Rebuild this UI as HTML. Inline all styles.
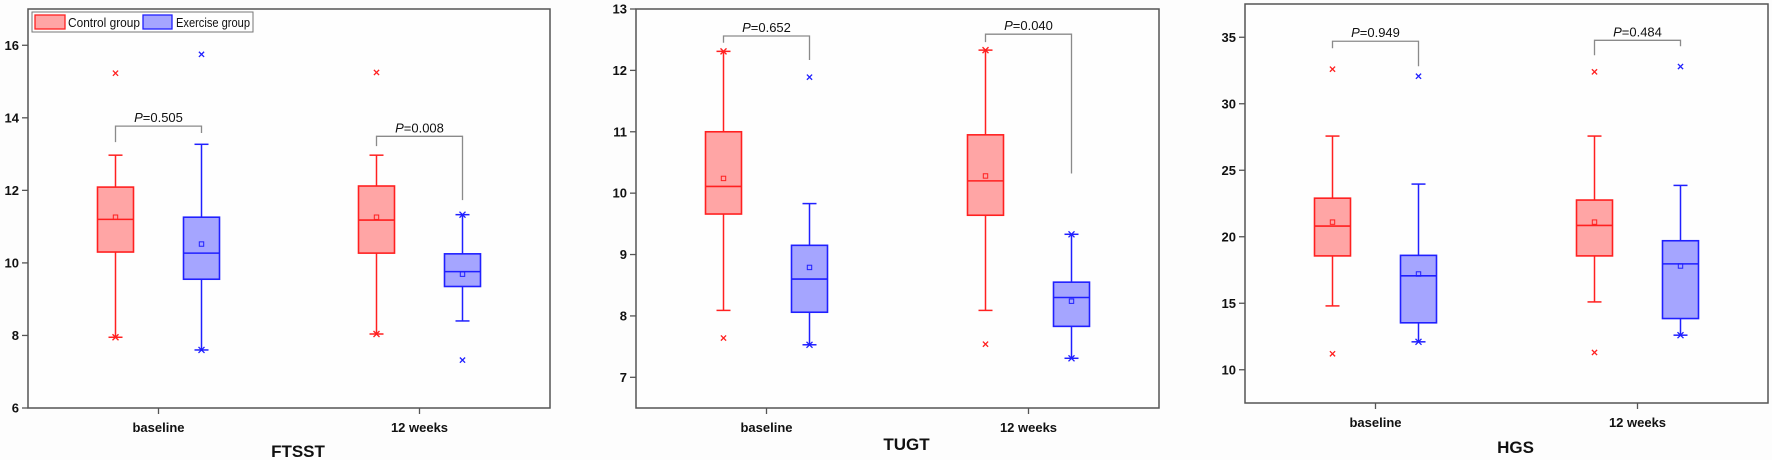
<!DOCTYPE html>
<html><head><meta charset="utf-8"><style>
html,body{margin:0;padding:0;background:#fdfdfd;}
svg{display:block;font-family:"Liberation Sans",Arial,sans-serif;}
</style></head><body>
<svg id="chart" width="1772" height="460" viewBox="0 0 1772 460" xmlns="http://www.w3.org/2000/svg">
<rect x="0" y="0" width="1772" height="460" fill="#fdfdfd"/>
</svg>
<script>
// ---- data ----
const categories = ["baseline", "12 weeks"];
const groups = ["Control group", "Exercise group"];
const panelTitles = ["FTSST", "TUGT", "HGS"];
// stats per time: [min, q1, median, q3, max, mean]
const ftsstControl = [[7.95, 10.3, 11.2, 12.09, 12.97, 11.26], [8.04, 10.27, 11.18, 12.12, 12.97, 11.26]];
const ftsstExercise = [[7.6, 9.55, 10.27, 11.26, 13.27, 10.52], [8.4, 9.35, 9.76, 10.25, 11.33, 9.69]];
const tugtControl = [[8.09, 9.66, 10.11, 11.0, 12.31, 10.24], [8.09, 9.64, 10.2, 10.95, 12.33, 10.28]];
const tugtExercise = [[7.53, 8.06, 8.6, 9.15, 9.83, 8.79], [7.31, 7.83, 8.3, 8.55, 9.33, 8.24]];
const hgsControl = [[14.8, 18.56, 20.8, 22.9, 27.57, 21.1], [15.1, 18.56, 20.85, 22.76, 27.57, 21.1]];
const hgsExercise = [[12.1, 13.53, 17.06, 18.6, 23.96, 17.2], [12.6, 13.85, 17.96, 19.7, 23.86, 17.8]];
// outliers
const ftsstControlOut = [[15.23], [15.25]];
const ftsstExerciseOut = [[15.75], [7.32]];
const tugtControlOut = [[7.64], [7.54]];
const tugtExerciseOut = [[11.89], []];
const hgsControlOut = [[32.6, 11.2], [32.4, 11.3]];
const hgsExerciseOut = [[32.07], [32.8]];
// whisker ends that are data extremes (star marks): [minStar, maxStar]
const ftsstControlStar = [[1, 0], [1, 0]];
const ftsstExerciseStar = [[1, 0], [0, 1]];
const tugtControlStar = [[0, 1], [0, 1]];
const tugtExerciseStar = [[1, 0], [1, 1]];
const hgsControlStar = [[0, 0], [0, 0]];
const hgsExerciseStar = [[1, 0], [1, 0]];
// p values and bracket heights [top, leftLegEnd, rightLegEnd]
const ftsstP = ["0.505", "0.008"];
const tugtP = ["0.652", "0.040"];
const hgsP = ["0.949", "0.484"];
const ftsstBracket = [[13.77, 13.33, 13.58], [13.49, 13.22, 11.73]];
const tugtBracket = [[12.56, 12.45, 12.17], [12.59, 12.46, 10.32]];
const hgsBracket = [[34.7, 34.17, 32.82], [34.77, 33.65, 34.32]];
// axes
const ftsstTicks = [6, 8, 10, 12, 14, 16];
const tugtTicks = [7, 8, 9, 10, 11, 12, 13];
const hgsTicks = [10, 15, 20, 25, 30, 35];

// ---- layout ----
const NS = "http://www.w3.org/2000/svg";
const svg = document.getElementById("chart");
const RED = "#ff2020", REDF = "#ffa5a5", BLUE = "#2020ff", BLUEF = "#a5a5ff", GRAY = "#8a8a8a", AX = "#555";
function mk(tag, attrs, parent) {
  const e = document.createElementNS(NS, tag);
  for (const k in attrs) e.setAttribute(k, attrs[k]);
  (parent || svg).appendChild(e);
  return e;
}
const panels = [
  {name: "ftsst", left: 28, right: 550, top: 9, bottom: 408, dmin: 6, dmax: 17, ticks: ftsstTicks,
   ctrl: ftsstControl, ex: ftsstExercise, ctrlOut: ftsstControlOut, exOut: ftsstExerciseOut,
   ctrlStar: ftsstControlStar, exStar: ftsstExerciseStar, p: ftsstP, br: ftsstBracket, labY: 427, titleY: 451, title: panelTitles[0]},
  {name: "tugt", left: 636, right: 1159, top: 9, bottom: 408, dmin: 6.5, dmax: 13, ticks: tugtTicks,
   ctrl: tugtControl, ex: tugtExercise, ctrlOut: tugtControlOut, exOut: tugtExerciseOut,
   ctrlStar: tugtControlStar, exStar: tugtExerciseStar, p: tugtP, br: tugtBracket, labY: 427, titleY: 444, title: panelTitles[1]},
  {name: "hgs", left: 1245, right: 1768, top: 4, bottom: 403, dmin: 7.5, dmax: 37.5, ticks: hgsTicks,
   ctrl: hgsControl, ex: hgsExercise, ctrlOut: hgsControlOut, exOut: hgsExerciseOut,
   ctrlStar: hgsControlStar, exStar: hgsExerciseStar, p: hgsP, br: hgsBracket, labY: 422, titleY: 447, title: panelTitles[2]}
];

function drawX(g, x, y, col, s) {
  mk("line", {x1: x - s, y1: y - s, x2: x + s, y2: y + s, stroke: col, "stroke-width": 1.3}, g);
  mk("line", {x1: x - s, y1: y + s, x2: x + s, y2: y - s, stroke: col, "stroke-width": 1.3}, g);
}

panels.forEach(P => {
  const g = mk("g", {});
  
  
  const yS = v => P.bottom - (v - P.dmin) / (P.dmax - P.dmin) * (P.bottom - P.top);
  const span = P.right - P.left;
  const xS = i => P.left + 130.5 + i * (span - 261) ;
  const fr = mk("rect", {x: P.left, y: P.top, width: span, height: P.bottom - P.top, fill: "#fefefe", stroke: AX, "stroke-width": 1.5}, g);
  
  
  P.ticks.forEach(t => {
    const y = yS(t);
    const tk = mk("line", {x1: P.left - 6, y1: y, x2: P.left, y2: y, stroke: AX, "stroke-width": 1.3}, g);
    
    
    const tl = mk("text", {x: P.left - 9, y: y + 4.5, "text-anchor": "end", "font-size": 13, "font-weight": "bold", fill: "#111"}, g);
    tl.textContent = t;
    
    
  });
  categories.forEach((c, i) => {
    const x = xS(i);
    const tk = mk("line", {x1: x, y1: P.bottom, x2: x, y2: P.bottom + 6, stroke: AX, "stroke-width": 1.3}, g);
    
    
    const tl = mk("text", {x: x, y: P.labY + 5, "text-anchor": "middle", "font-size": 13, "font-weight": "bold", fill: "#111"}, g);
    tl.textContent = c;
    
    
  });
  const tt = mk("text", {x: (P.left + P.right) / 2 + 9, y: P.titleY + 6, "text-anchor": "middle", "font-size": 17, "font-weight": "bold", fill: "#111"}, g);
  tt.textContent = P.title;
  
  

  const series = [[P.ctrl, P.ctrlOut, P.ctrlStar, RED, REDF, -43, "control"], [P.ex, P.exOut, P.exStar, BLUE, BLUEF, 43, "exercise"]];
  categories.forEach((c, i) => {
    series.forEach(([st, out, star, col, fill, off, nm]) => {
      const s = st[i];
      const cx = xS(i) + off;
      const bg = mk("g", {}, g);
      
      
      const w = 36, cap = 7;
      mk("line", {x1: cx, y1: yS(s[0]), x2: cx, y2: yS(s[1]), stroke: col, "stroke-width": 1.5}, bg);
      mk("line", {x1: cx, y1: yS(s[3]), x2: cx, y2: yS(s[4]), stroke: col, "stroke-width": 1.5}, bg);
      mk("line", {x1: cx - cap, y1: yS(s[0]), x2: cx + cap, y2: yS(s[0]), stroke: col, "stroke-width": 1.5}, bg);
      mk("line", {x1: cx - cap, y1: yS(s[4]), x2: cx + cap, y2: yS(s[4]), stroke: col, "stroke-width": 1.5}, bg);
      if (star[i][0]) drawX(bg, cx, yS(s[0]), col, 3);
      if (star[i][1]) drawX(bg, cx, yS(s[4]), col, 3);
      mk("rect", {x: cx - w / 2, y: yS(s[3]), width: w, height: yS(s[1]) - yS(s[3]), fill: fill, stroke: col, "stroke-width": 1.6}, bg);
      mk("line", {x1: cx - w / 2, y1: yS(s[2]), x2: cx + w / 2, y2: yS(s[2]), stroke: col, "stroke-width": 1.6}, bg);
      mk("rect", {x: cx - 2.2, y: yS(s[5]) - 2.2, width: 4.4, height: 4.4, fill: "none", stroke: col, "stroke-width": 1}, bg);
      out[i].forEach(v => drawX(bg, cx, yS(v), col, 2.6));
    });
    const b = P.br[i];
    const xl = xS(i) - 43, xr = xS(i) + 43;
    const br = mk("polyline", {points: `${xl},${yS(b[1])} ${xl},${yS(b[0])} ${xr},${yS(b[0])} ${xr},${yS(b[2])}`, fill: "none", stroke: GRAY, "stroke-width": 1.3}, g);
    
    
    const pt = mk("text", {x: xS(i), y: yS(b[0]) - 4, "text-anchor": "middle", "font-size": 13, fill: "#111"}, g);
    
    
    const pi = mk("tspan", {"font-style": "italic"}, pt);
    pi.textContent = "P";
    const pv = mk("tspan", {}, pt);
    pv.textContent = "=" + P.p[i];
  });
});

// legend (panel 1)
const lg = mk("g", {});


mk("rect", {x: 32, y: 12, width: 221, height: 20, fill: "#fefefe", stroke: "#777", "stroke-width": 1}, lg);
const le1 = mk("g", {}, lg);


mk("rect", {x: 35, y: 15, width: 30, height: 14, fill: REDF, stroke: RED, "stroke-width": 1.3}, le1);
const t1 = mk("text", {x: 68, y: 27, "font-size": 13, fill: "#111", textLength: 72, lengthAdjust: "spacingAndGlyphs"}, le1);
t1.textContent = groups[0];
const le2 = mk("g", {}, lg);


mk("rect", {x: 143, y: 15, width: 29, height: 14, fill: BLUEF, stroke: BLUE, "stroke-width": 1.3}, le2);
const t2 = mk("text", {x: 176, y: 27, "font-size": 13, fill: "#111", textLength: 74, lengthAdjust: "spacingAndGlyphs"}, le2);
t2.textContent = groups[1];
</script>
</body></html>
